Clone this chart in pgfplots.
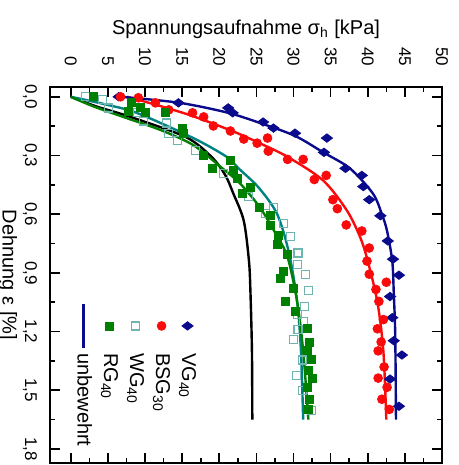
\documentclass[border=0pt]{standalone}
\usepackage{fontspec}
\setmainfont{Liberation Sans}
\usepackage{pgfplots}
\pgfplotsset{compat=1.18}
\definecolor{vgblue}{RGB}{10,10,140}
\definecolor{bsgred}{RGB}{250,10,10}
\definecolor{rggreen}{RGB}{0,128,0}
\definecolor{wgline}{RGB}{0,130,130}
\definecolor{wgmark}{RGB}{110,180,175}
\begin{document}
\begin{tikzpicture}
\begin{scope}[rotate=-90, transform shape]
\begin{axis}[
  scale only axis, width=188pt, height=196pt,
  xmin=-0.05, xmax=1.872, ymin=-2.8, ymax=50,
  xtick={0,0.3,0.6,0.9,1.2,1.5,1.8}, minor x tick num=1,
  ytick={0,5,10,15,20,25,30,35,40,45,50}, minor y tick num=1,
  tick align=inside, major tick length=5pt, minor tick length=2.5pt,
  axis line style={line width=0.8pt}, tick style={line width=0.8pt, black},
  ticklabel style={font=\fontsize{8.5}{10}\selectfont},
  xticklabel style={/pgf/number format/fixed, /pgf/number format/fixed zerofill, /pgf/number format/precision=1, /pgf/number format/use comma, /pgf/number format/assume math mode=true, yshift=-3pt},
  yticklabel style={/pgf/number format/assume math mode=true, xshift=-7pt},
  xlabel={Dehnung ε [\%]},
  ylabel={Spannungsaufnahme σ\textsubscript{h} [kPa]},
  xlabel shift=-4pt, ylabel shift=-2.5pt,
  legend style={at={(axis cs:1.02,18)}, anchor=north west, draw=none, fill=none, font=\normalsize, row sep=0.5pt},
  legend cell align=left,
  legend image code/.code={\draw[mark repeat=2,mark phase=2] plot coordinates {(0pt,0pt) (11pt,0pt) (22pt,0pt)};},
]
% fitted lines
\addplot[black, line width=1.2pt, smooth, forget plot] coordinates {
(0,0) (0.05,3.5) (0.1,7.8) (0.206,15.5) (0.309,19.0) (0.4,20.8) (0.495,21.9) (0.634,23.3) (0.84,24.0) (1.0,24.2) (1.3,24.4) (1.65,24.45)};
\addplot[wgline, line width=1.2pt, smooth, forget plot] coordinates {
(0,0) (0.04,4.8) (0.084,9.0) (0.211,16.5) (0.307,21.0) (0.366,22.6) (0.464,25.3) (0.6,27.8) (0.8,29.4) (1.05,30.5) (1.30,31.0) (1.65,31.3)};
\addplot[rggreen, line width=1.2pt, smooth, forget plot] coordinates {
(0,0) (0.05,3.1) (0.11,7.6) (0.17,12.1) (0.247,16.5) (0.359,20.2) (0.443,22.8) (0.567,25.5) (0.7,27.6) (0.82,29.2) (1.05,30.5) (1.30,31.3) (1.65,32.0)};
\addplot[bsgred, line width=1.2pt, smooth, forget plot] coordinates {
(0,7.6) (0.05,12.3) (0.101,16.6) (0.179,22.0) (0.24,25.6) (0.307,29.2) (0.428,34.0) (0.582,37.2) (0.72,39.0) (0.84,40.0) (1.05,41.3) (1.30,42.1) (1.65,42.5)};
\addplot[vgblue, line width=1.2pt, smooth, forget plot] coordinates {
(0,6.7) (0.03,14.5) (0.08,21.0) (0.134,25.5) (0.2,30.2) (0.284,34.0) (0.366,37.6) (0.495,40.7) (0.6,41.9) (0.686,42.6) (0.84,43.3) (1.0,43.5) (1.22,43.7) (1.65,43.8)};
% measured points
\addplot[only marks, mark=diamond*, mark size=2.8pt, vgblue] coordinates {
(0.0,6.45) (0.031,14.5) (0.057,21.2) (0.082,21.8) (0.129,25.9) (0.160,27.3) (0.186,30.2) (0.211,34.5) (0.284,34.1) (0.366,37.0) (0.402,39.2) (0.459,39.4) (0.526,40.2) (0.608,41.7) (0.737,42.7) (0.830,43.4) (0.912,44.2) (1.021,43.0) (1.129,43.3) (1.247,43.5) (1.320,44.6) (1.443,43.0) (1.582,44.2)};
\addlegendentry{VG\textsubscript{40}}
\addplot[only marks, mark=*, mark size=2.2pt, bsgred] coordinates {
(0.0,6.7) (0.005,9.1) (0.031,11.4) (0.067,13.2) (0.082,16.4) (0.103,17.9) (0.149,19.2) (0.175,21.5) (0.216,23.3) (0.237,25.1) (0.211,26.5) (0.278,26.6) (0.320,29.2) (0.320,31.3) (0.423,32.8) (0.402,34.4) (0.526,35.3) (0.572,35.9) (0.655,37.1) (0.686,39.2) (0.773,40.2) (0.840,39.9) (0.907,40.2) (0.948,42.5) (0.985,41.1) (1.046,41.5) (1.139,42.1) (1.186,41.3) (1.253,41.8) (1.299,41.4) (1.381,42.2) (1.438,41.4) (1.485,42.6) (1.546,41.9) (1.598,42.9)};
\addlegendentry{BSG\textsubscript{30}}
\addplot[only marks, mark=square, mark size=2pt, wgmark, mark options={line width=0.6pt}] coordinates {
(0.0,2.0) (0.015,4.3) (0.057,5.1) (0.082,9.0) (0.124,9.8) (0.134,12.9) (0.186,13.2) (0.222,14.4) (0.273,16.8) (0.392,20.6) (0.495,23.1) (0.510,23.9) (0.567,27.3) (0.598,26.2) (0.649,28.6) (0.716,29.6) (0.799,30.6) (0.856,30.5) (0.907,31.6) (0.990,32.0) (1.072,31.5) (1.113,30.5) (1.149,31.3) (1.191,30.6) (1.242,30.0) (1.345,31.2) (1.423,30.4) (1.500,31.2) (1.603,32.4)};
\addlegendentry{WG\textsubscript{40}}
\addplot[only marks, mark=square*, mark size=2pt, rggreen] coordinates {
(0.0,3.0) (0.031,8.1) (0.052,9.4) (0.077,7.8) (0.082,10.1) (0.082,12.8) (0.160,15.1) (0.186,15.2) (0.299,17.9) (0.366,19.1) (0.325,21.5) (0.376,21.9) (0.418,22.4) (0.495,23.1) (0.464,24.2) (0.567,25.4) (0.608,26.9) (0.660,26.9) (0.711,28.0) (0.753,27.8) (0.804,29.2) (0.892,28.6) (0.928,28.2) (0.979,30.0) (1.046,28.9) (1.098,30.2) (1.186,31.9) (1.253,32.1) (1.294,31.9) (1.340,32.4) (1.397,32.0) (1.438,32.5) (1.485,31.9) (1.546,32.1) (1.598,32.0)};
\addlegendentry{RG\textsubscript{40}}
\addlegendimage{vgblue, line width=1.2pt}
\addlegendentry{unbewehrt}
\end{axis}
\end{scope}
\pgfresetboundingbox
\path[use as bounding box] ([shift={(-25pt,43.5pt)}]current axis.south west) rectangle ([shift={(8.5pt,-1pt)}]current axis.north east);
\end{tikzpicture}
\end{document}
